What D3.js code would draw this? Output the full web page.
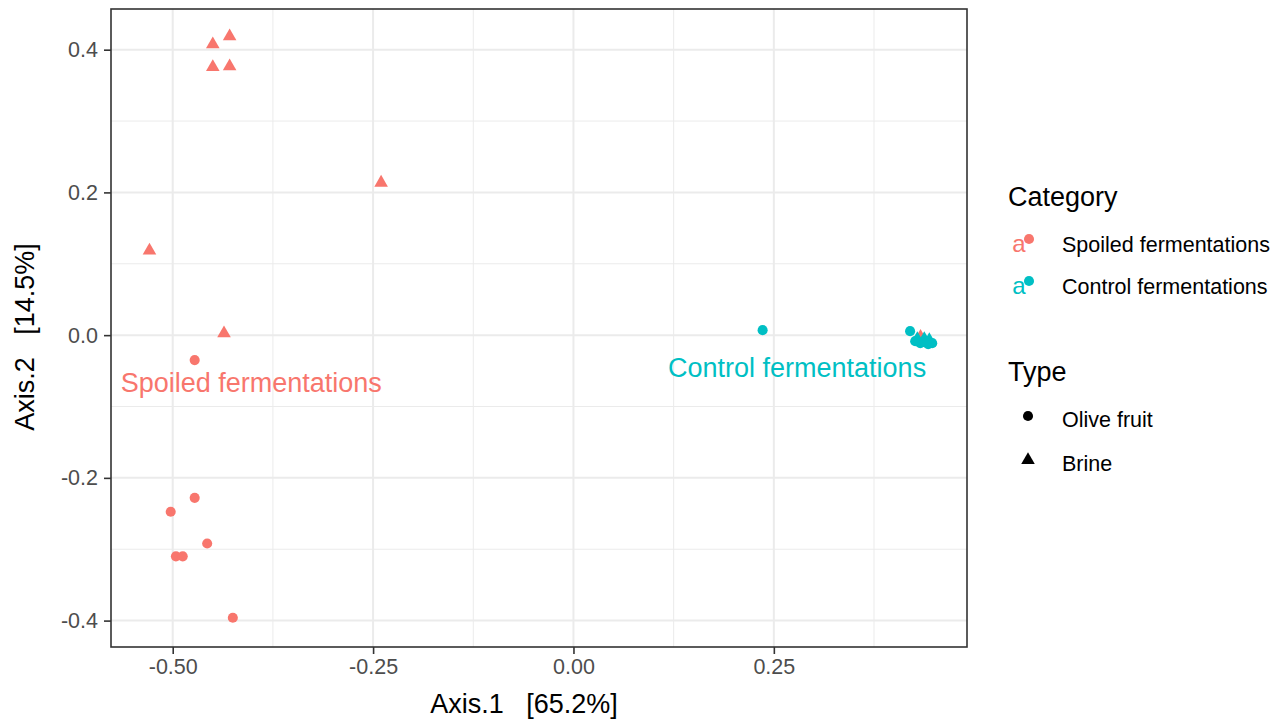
<!DOCTYPE html>
<html>
<head>
<meta charset="utf-8">
<script src="https://cdn.jsdelivr.net/npm/d3@7"></script>
<style>
  html, body { margin: 0; padding: 0; background: #ffffff; }
  svg { display: block; font-family: "Liberation Sans", Arial, Helvetica, sans-serif; }
</style>
</head>
<body>
<svg id="chart" width="1281" height="722"></svg>
<script>
// ---- data ----
const categories = ["Spoiled fermentations", "Control fermentations"];
const types = ["Olive fruit", "Brine"];
const categoryColors = ["#F8766D", "#00BFC4"];

// Spoiled fermentations – olive fruit
const spoiledFruitX = [-0.4726, -0.4726, -0.5025, -0.457, -0.496, -0.4875, -0.425];
const spoiledFruitY = [-0.035, -0.228, -0.2475, -0.292, -0.310, -0.310, -0.396];
// Spoiled fermentations – brine
const spoiledBrineX = [-0.429, -0.450, -0.450, -0.429, -0.240, -0.529, -0.436, 0.433];
const spoiledBrineY = [0.420, 0.409, 0.377, 0.378, 0.215, 0.120, 0.004, -0.001];
// Control fermentations – olive fruit
const controlFruitX = [0.236, 0.420, 0.4264, 0.4327, 0.4426, 0.4476];
const controlFruitY = [0.007, 0.0056, -0.0084, -0.0112, -0.0126, -0.0112];
// Control fermentations – brine
const controlBrineX = [0.429, 0.4377, 0.444, 0.440];
const controlBrineY = [-0.0042, -0.0042, -0.0056, -0.0098];

// group label annotations
const labelTexts = ["Spoiled fermentations", "Control fermentations"];
const labelX = [-0.402, 0.279];
const labelY = [-0.066, -0.045];

const xTicks = [-0.50, -0.25, 0.00, 0.25];
const xTickLabels = ["-0.50", "-0.25", "0.00", "0.25"];
const yTicks = [-0.4, -0.2, 0.0, 0.2, 0.4];
const yTickLabels = ["-0.4", "-0.2", "0.0", "0.2", "0.4"];
const xMinor = [-0.375, -0.125, 0.125, 0.375];
const yMinor = [-0.3, -0.1, 0.1, 0.3];
const xTitle = "Axis.1   [65.2%]";
const yTitle = "Axis.2   [14.5%]";

// ---- layout ----
const panel = { left: 111, right: 967, top: 9, bottom: 647 };
const svg = d3.select("#chart");

const x = d3.scaleLinear().domain([-0.577, 0.491]).range([panel.left, panel.right]);
const y = d3.scaleLinear().domain([-0.437, 0.457]).range([panel.bottom, panel.top]);

// grid
const grid = svg.append("g");
grid.selectAll("line.xminor").data(xMinor).enter().append("line")
  .attr("x1", d => x(d)).attr("x2", d => x(d))
  .attr("y1", panel.top).attr("y2", panel.bottom)
  .attr("stroke", "#EBEBEB").attr("stroke-width", 1);
grid.selectAll("line.yminor").data(yMinor).enter().append("line")
  .attr("y1", d => y(d)).attr("y2", d => y(d))
  .attr("x1", panel.left).attr("x2", panel.right)
  .attr("stroke", "#EBEBEB").attr("stroke-width", 1);
grid.selectAll("line.xmajor").data(xTicks).enter().append("line")
  .attr("x1", d => x(d)).attr("x2", d => x(d))
  .attr("y1", panel.top).attr("y2", panel.bottom)
  .attr("stroke", "#EBEBEB").attr("stroke-width", 2);
grid.selectAll("line.ymajor").data(yTicks).enter().append("line")
  .attr("y1", d => y(d)).attr("y2", d => y(d))
  .attr("x1", panel.left).attr("x2", panel.right)
  .attr("stroke", "#EBEBEB").attr("stroke-width", 2);

// points
const circleSym = d3.symbol().type(d3.symbolCircle).size(80);
const triSym = d3.symbol().type(d3.symbolTriangle).size(80);

function drawGroup(xs, ys, color, sym, dyOff) {
  svg.append("g").selectAll("path").data(xs.map((v, i) => [v, ys[i]])).enter()
    .append("path")
    .attr("d", sym)
    .attr("transform", d => `translate(${x(d[0])},${y(d[1]) + dyOff})`)
    .attr("fill", color);
}
drawGroup(spoiledFruitX, spoiledFruitY, categoryColors[0], circleSym, 0);
drawGroup(spoiledBrineX, spoiledBrineY, categoryColors[0], triSym, 1);
drawGroup(controlFruitX, controlFruitY, categoryColors[1], circleSym, 0);
drawGroup(controlBrineX, controlBrineY, categoryColors[1], triSym, 1);

// annotations
svg.append("g").selectAll("text").data(labelTexts).enter().append("text")
  .attr("x", (d, i) => x(labelX[i]))
  .attr("y", (d, i) => y(labelY[i]))
  .attr("dy", "0.36em")
  .attr("text-anchor", "middle")
  .attr("font-size", 27)
  .attr("fill", (d, i) => categoryColors[i])
  .text(d => d);

// panel border
svg.append("rect")
  .attr("x", panel.left).attr("y", panel.top)
  .attr("width", panel.right - panel.left).attr("height", panel.bottom - panel.top)
  .attr("fill", "none").attr("stroke", "#333333").attr("stroke-width", 1.6);

// axes
const xAxis = d3.axisBottom(x).tickValues(xTicks)
  .tickFormat((d, i) => xTickLabels[i]).tickSize(7).tickPadding(5);
const gx = svg.append("g").attr("transform", `translate(0,${panel.bottom})`).call(xAxis);
gx.select(".domain").remove();
gx.selectAll(".tick line").attr("stroke", "#333333").attr("stroke-width", 1.6);
gx.selectAll(".tick text").attr("fill", "#4D4D4D").attr("font-size", 21.5)
  .attr("font-family", "Liberation Sans, Arial, sans-serif");

const yAxis = d3.axisLeft(y).tickValues(yTicks)
  .tickFormat((d, i) => yTickLabels[i]).tickSize(7).tickPadding(6);
const gy = svg.append("g").attr("transform", `translate(${panel.left},0)`).call(yAxis);
gy.select(".domain").remove();
gy.selectAll(".tick line").attr("stroke", "#333333").attr("stroke-width", 1.6);
gy.selectAll(".tick text").attr("fill", "#4D4D4D").attr("font-size", 21.5)
  .attr("font-family", "Liberation Sans, Arial, sans-serif");

// axis titles
svg.append("text").attr("x", 524).attr("y", 713)
  .attr("text-anchor", "middle").attr("font-size", 27).attr("fill", "#000")
  .style("white-space", "pre").attr("xml:space", "preserve")
  .text(xTitle);
svg.append("text").attr("transform", "translate(34,337) rotate(-90)")
  .attr("text-anchor", "middle").attr("font-size", 27).attr("fill", "#000")
  .style("white-space", "pre").attr("xml:space", "preserve")
  .text(yTitle);

// legend
const leg = svg.append("g");
leg.append("text").attr("x", 1008).attr("y", 206).attr("font-size", 27).text("Category");
const catRowY = [244, 286];
categories.forEach((c, i) => {
  leg.append("text").attr("x", 1019).attr("y", catRowY[i]).attr("dy", "0.35em")
    .attr("text-anchor", "middle").attr("font-size", 24).attr("fill", categoryColors[i]).text("a");
  leg.append("path").attr("d", circleSym)
    .attr("transform", `translate(1029,${catRowY[i] - 5})`).attr("fill", categoryColors[i]);
  leg.append("text").attr("x", 1062).attr("y", catRowY[i]).attr("dy", "0.35em")
    .attr("font-size", 21.5).attr("fill", "#000").text(c);
});
leg.append("text").attr("x", 1008).attr("y", 381).attr("font-size", 27).text("Type");
const typeRowY = [419, 463];
const typeSyms = [circleSym, triSym];
types.forEach((t, i) => {
  leg.append("path").attr("d", typeSyms[i])
    .attr("transform", `translate(1028,${typeRowY[i] - 3})`).attr("fill", "#000");
  leg.append("text").attr("x", 1062).attr("y", typeRowY[i]).attr("dy", "0.35em")
    .attr("font-size", 21.5).attr("fill", "#000").text(t);
});
</script>
</body>
</html>
